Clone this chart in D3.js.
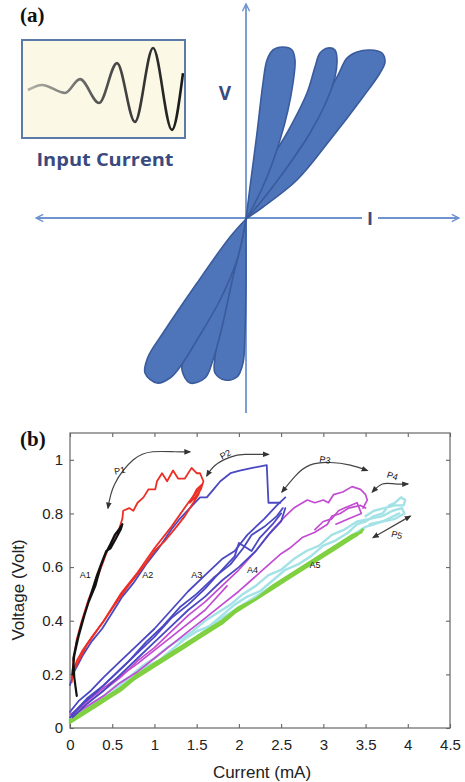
<!DOCTYPE html>
<html><head><meta charset="utf-8">
<script src="https://cdn.jsdelivr.net/npm/d3@7"></script>
<style>body{margin:0;background:#fff}svg{display:block}</style>
</head><body>
<svg id="c" width="465" height="782"></svg>
<script>
// ---------- Panel (a) schematic data (I, V in schematic units) ----------
const waveT = [0.06, 0.96, 2.44, 3.40, 4.62, 5.77, 6.92, 8.08, 9.29, 10];
const waveA = [0, 0.12, -0.07, 0.26, -0.31, 0.64, -0.76, 1.0, -0.95, 0.4];

const lobesUpper = [
  [[0,0],[0.04,0.32],[0.11,0.86],[0.17,1.36],[0.21,1.59],[0.27,1.69],[0.37,1.72],[0.46,1.69],[0.49,1.59],[0.47,1.36],[0.42,1.09],[0.34,0.79],[0.21,0.42],[0.07,0.12],[0,0]],
  [[0,0],[0.17,0.46],[0.41,0.86],[0.61,1.26],[0.69,1.52],[0.74,1.66],[0.82,1.71],[0.89,1.69],[0.91,1.59],[0.89,1.42],[0.81,1.19],[0.64,0.86],[0.37,0.46],[0.14,0.16],[0,0]],
  [[0,0],[0.34,0.59],[0.64,0.99],[0.91,1.42],[1.01,1.61],[1.11,1.67],[1.24,1.69],[1.36,1.66],[1.39,1.57],[1.34,1.46],[1.17,1.22],[0.84,0.79],[0.51,0.39],[0.17,0.12],[0,0]]
];
const lobesLower = [
  [[0,0],[-0.16,-0.18],[-0.49,-0.64],[-0.83,-1.14],[-0.98,-1.38],[-1.01,-1.54],[-0.89,-1.64],[-0.76,-1.59],[-0.66,-1.48],[-0.49,-1.21],[-0.26,-0.81],[-0.09,-0.41],[0,0]],
  [[0,0],[-0.16,-0.41],[-0.33,-0.78],[-0.49,-1.08],[-0.61,-1.34],[-0.64,-1.51],[-0.56,-1.64],[-0.41,-1.59],[-0.33,-1.41],[-0.24,-1.08],[-0.13,-0.58],[-0.04,-0.21],[0,0]],
  [[0,0],[-0.06,-0.24],[-0.16,-0.64],[-0.26,-1.08],[-0.31,-1.38],[-0.31,-1.54],[-0.21,-1.61],[-0.09,-1.58],[-0.03,-1.44],[-0.01,-1.14],[0,-0.64],[0,-0.21],[0,0]]
];

// ---------- Panel (b) data: Current (mA), Voltage (Volt) ----------
const xTicks = [0, 0.5, 1, 1.5, 2, 2.5, 3, 3.5, 4, 4.5];
const yTicks = [0, 0.2, 0.4, 0.6, 0.8, 1];

const cyanTraces = [
  [[0,0.03],[0.15,0.06],[0.3,0.10],[0.45,0.12],[0.6,0.16],[0.75,0.19],[0.9,0.23],[1.05,0.25],[1.2,0.29],[1.35,0.33],[1.5,0.36],[1.65,0.38],[1.8,0.42],[1.95,0.46],[2.1,0.49],[2.25,0.51],[2.4,0.55],[2.55,0.59],[2.7,0.61],[2.85,0.64],[3.0,0.68],[3.15,0.70],[3.3,0.73],[3.4,0.76],[3.5,0.77],[3.6,0.79],[3.7,0.80],[3.78,0.83],[3.85,0.84],[3.92,0.86],[3.97,0.85],[3.95,0.83],[3.85,0.83],[3.72,0.82],[3.6,0.81],[3.5,0.79]],
  [[0,0.04],[0.2,0.08],[0.4,0.12],[0.55,0.16],[0.7,0.19],[0.85,0.23],[1.0,0.26],[1.15,0.30],[1.3,0.33],[1.45,0.36],[1.6,0.40],[1.75,0.43],[1.9,0.46],[2.05,0.50],[2.2,0.53],[2.35,0.57],[2.5,0.59],[2.65,0.63],[2.8,0.66],[2.95,0.68],[3.1,0.72],[3.25,0.74],[3.4,0.77],[3.55,0.78],[3.7,0.79],[3.82,0.81],[3.93,0.82],[3.96,0.80],[3.85,0.78],[3.7,0.77],[3.55,0.76]],
  [[0,0.03],[0.25,0.08],[0.5,0.13],[0.75,0.18],[1.0,0.24],[1.25,0.29],[1.5,0.34],[1.75,0.40],[2.0,0.45],[2.25,0.50],[2.5,0.55],[2.75,0.60],[3.0,0.65],[3.25,0.70],[3.5,0.75],[3.7,0.77],[3.9,0.80]]
];
const greenTraces = [
  [[0,0.02],[0.15,0.05],[0.3,0.08],[0.45,0.11],[0.6,0.14],[0.75,0.18],[0.9,0.21],[1.05,0.24],[1.2,0.27],[1.35,0.30],[1.5,0.33],[1.65,0.36],[1.8,0.39],[1.95,0.43],[2.1,0.46],[2.25,0.49],[2.4,0.52],[2.55,0.55],[2.7,0.58],[2.85,0.61],[3.0,0.64],[3.15,0.67],[3.3,0.70],[3.4,0.72],[3.47,0.74]],
  [[0,0.03],[0.2,0.07],[0.4,0.11],[0.6,0.15],[0.8,0.20],[1.0,0.24],[1.2,0.28],[1.4,0.32],[1.6,0.36],[1.8,0.40],[2.0,0.45],[2.2,0.48],[2.4,0.53],[2.6,0.57],[2.8,0.61],[3.0,0.65],[3.2,0.69],[3.35,0.72],[3.45,0.73]]
];
const magentaTraces = [
  [[0,0.05],[0.2,0.09],[0.4,0.14],[0.6,0.19],[0.8,0.25],[1.0,0.30],[1.2,0.36],[1.4,0.42],[1.6,0.47],[1.8,0.53],[2.0,0.59],[2.2,0.66],[2.4,0.74],[2.55,0.79],[2.65,0.82],[2.81,0.85],[2.9,0.84],[3.0,0.85],[3.06,0.84],[3.12,0.87],[3.23,0.88],[3.34,0.90],[3.44,0.89],[3.5,0.87],[3.52,0.85],[3.47,0.82]],
  [[0,0.04],[0.2,0.08],[0.4,0.12],[0.6,0.17],[0.8,0.21],[1.0,0.26],[1.2,0.31],[1.4,0.36],[1.6,0.41],[1.8,0.46],[2.0,0.51],[2.25,0.58],[2.5,0.65],[2.6,0.67],[2.75,0.71],[2.9,0.73],[3.05,0.76],[3.1,0.79],[3.2,0.80],[3.3,0.82],[3.44,0.83],[3.5,0.82]],
  [[0.05,0.06],[0.4,0.15],[0.8,0.24],[1.2,0.34],[1.6,0.44],[1.86,0.53]],
  [[2.9,0.74],[3.0,0.77],[3.1,0.78],[3.18,0.81],[3.25,0.82],[3.4,0.84],[3.45,0.80],[3.3,0.78],[3.15,0.76]]
];
const blueTraces = [
  [[0,0.06],[0.1,0.10],[0.25,0.14],[0.4,0.19],[0.6,0.25],[0.8,0.31],[1.0,0.37],[1.2,0.44],[1.4,0.51],[1.6,0.57],[1.8,0.63],[1.95,0.66],[2.1,0.72],[2.3,0.78],[2.45,0.83],[2.55,0.86]],
  [[0,0.04],[0.15,0.09],[0.3,0.13],[0.5,0.19],[0.7,0.25],[0.9,0.32],[1.1,0.38],[1.3,0.45],[1.5,0.50],[1.7,0.56],[1.9,0.61],[2.05,0.67],[2.15,0.72],[2.3,0.75],[2.45,0.79],[2.52,0.82]],
  [[0.02,0.05],[0.2,0.11],[0.4,0.16],[0.6,0.22],[0.8,0.28],[1.0,0.34],[1.2,0.41],[1.4,0.46],[1.6,0.52],[1.8,0.59],[1.95,0.64],[2.0,0.69],[2.15,0.66],[2.25,0.71],[2.4,0.76],[2.5,0.80]],
  [[0.03,0.04],[0.2,0.09],[0.4,0.14],[0.6,0.20],[0.8,0.26],[1.0,0.32],[1.2,0.38],[1.4,0.44],[1.6,0.49],[1.8,0.55],[2.0,0.60],[2.2,0.66],[2.35,0.72],[2.5,0.77],[2.55,0.82]],
  [[0,0.16],[0.05,0.21],[0.15,0.27],[0.25,0.32],[0.38,0.37],[0.5,0.43],[0.62,0.49],[0.75,0.54],[0.9,0.61],[1.05,0.67],[1.2,0.74],[1.3,0.78],[1.45,0.83],[1.54,0.86],[1.62,0.86],[1.7,0.89],[1.78,0.92],[1.9,0.95],[2.01,0.96],[2.16,0.97],[2.33,0.98],[2.35,0.84],[2.49,0.84]]
];
const redTraces = [
  [[0.02,0.17],[0.04,0.25],[0.08,0.33],[0.14,0.40],[0.22,0.48],[0.30,0.54],[0.37,0.60],[0.44,0.66],[0.52,0.71],[0.58,0.74],[0.62,0.78],[0.63,0.81],[0.70,0.82],[0.75,0.81],[0.80,0.84],[0.87,0.86],[0.93,0.89],[1.01,0.89],[1.03,0.92],[1.09,0.95],[1.15,0.92],[1.22,0.96],[1.28,0.93],[1.36,0.93],[1.44,0.97],[1.50,0.95],[1.54,0.95],[1.58,0.92],[1.55,0.89],[1.48,0.86],[1.42,0.84],[1.50,0.89],[1.57,0.91],[1.52,0.87],[1.44,0.83],[1.36,0.79],[1.26,0.75],[1.13,0.70],[1.0,0.66],[0.89,0.61],[0.79,0.57],[0.69,0.53],[0.53,0.46],[0.38,0.39],[0.26,0.34],[0.15,0.29],[0.08,0.25],[0.02,0.19]],
  [[0.04,0.21],[0.2,0.31],[0.4,0.40],[0.6,0.50],[0.8,0.58],[1.0,0.67],[1.2,0.75],[1.4,0.84],[1.55,0.90]]
];
const blackTraces = [
  [[0.08,0.12],[0.05,0.19],[0.04,0.26],[0.08,0.32],[0.14,0.39],[0.22,0.47],[0.30,0.53],[0.36,0.60],[0.42,0.65],[0.47,0.68],[0.53,0.72],[0.58,0.74],[0.62,0.76],[0.60,0.74],[0.55,0.71],[0.48,0.67],[0.43,0.66],[0.38,0.62],[0.32,0.57],[0.25,0.50],[0.17,0.42],[0.10,0.34],[0.05,0.27],[0.03,0.20]]
];

const arrows = [
  {pts:[[0.45,0.82],[0.53,0.91],[0.75,1.0],[0.98,1.03],[1.24,1.03],[1.42,1.03]]},
  {pts:[[1.62,0.94],[1.72,0.98],[1.90,1.01],[2.07,1.02],[2.35,1.02]]},
  {pts:[[2.51,0.88],[2.67,0.94],[2.84,0.98],[3.08,0.99],[3.32,0.98],[3.52,0.96]]},
  {pts:[[3.58,0.88],[3.70,0.91],[3.85,0.91],[4.0,0.91]]},
  {pts:[[3.59,0.71],[4.03,0.79]]}
];
const labels = [
  {t:"A1", x:0.18, y:0.57, r:0}, {t:"A2", x:0.92, y:0.57, r:0}, {t:"A3", x:1.50, y:0.57, r:0},
  {t:"A4", x:2.16, y:0.59, r:0}, {t:"A5", x:2.90, y:0.61, r:0},
  {t:"P1", x:0.59, y:0.96, r:-12}, {t:"P2", x:1.84, y:1.02, r:-28}, {t:"P3", x:3.02, y:1.0, r:10},
  {t:"P4", x:3.82, y:0.94, r:18}, {t:"P5", x:3.87, y:0.72, r:15}
];

// ---------- Drawing ----------
const svg = d3.select("#c");
const defs = svg.append("defs");

// Panel (a)
const xa = d3.scaleLinear().domain([-1, 1]).range([146, 346]);
const ya = d3.scaleLinear().domain([-1, 1]).range([319, 119]);
const axisBlue = "#6f93cf";

defs.append("marker").attr("id","chev").attr("viewBox","0 0 10 10").attr("refX",9).attr("refY",5)
  .attr("markerWidth",9).attr("markerHeight",9).attr("orient","auto-start-reverse").attr("markerUnits","userSpaceOnUse")
  .append("path").attr("d","M1,1 L9,5 L1,9").attr("fill","none").attr("stroke",axisBlue).attr("stroke-width",1.6);

const gA = svg.append("g");
gA.append("line").attr("x1",xa(0)).attr("x2",xa(0)).attr("y1",ya(-1.94)).attr("y2",ya(2.15))
  .attr("stroke",axisBlue).attr("stroke-width",1.8).attr("marker-end","url(#chev)");
gA.append("line").attr("x1",xa(-2.1)).attr("x2",xa(1.16)).attr("y1",ya(0.01)).attr("y2",ya(0.01))
  .attr("stroke",axisBlue).attr("stroke-width",1.8).attr("marker-start","url(#chev)");
gA.append("line").attr("x1",xa(1.32)).attr("x2",xa(2.13)).attr("y1",ya(0.01)).attr("y2",ya(0.01))
  .attr("stroke",axisBlue).attr("stroke-width",1.8).attr("marker-end","url(#chev)");

const lobeLine = d3.line().x(d=>xa(d[0])).y(d=>ya(d[1])).curve(d3.curveCatmullRom.alpha(0.5));
const lobeG = gA.append("g");
[...lobesLower].reverse().concat([...lobesUpper].reverse()).forEach(l => {
  lobeG.append("path").attr("d", lobeLine(l) + "Z")
    .attr("fill","#4e74b9").attr("stroke","#3a5b9c").attr("stroke-width",1.6).attr("stroke-linejoin","round");
});

// inset
const xi = d3.scaleLinear().domain([0, 10]).range([27, 183]);
const yi = d3.scaleLinear().domain([-1, 1]).range([132, 48]);
const grad = defs.append("linearGradient").attr("id","wg").attr("x1","0%").attr("x2","100%");
grad.append("stop").attr("offset","0%").attr("stop-color","#b0b0a8");
grad.append("stop").attr("offset","45%").attr("stop-color","#555");
grad.append("stop").attr("offset","100%").attr("stop-color","#1a1a1a");
gA.append("rect").attr("x",22).attr("y",40).attr("width",163).attr("height",98)
  .attr("fill","#fbf8e5").attr("stroke","#5b7aa8").attr("stroke-width",2);
defs.append("clipPath").attr("id","ic").append("rect").attr("x",23).attr("y",41).attr("width",161).attr("height",96);
gA.append("path").attr("clip-path","url(#ic)")
  .attr("d", d3.line().x((d,i)=>xi(waveT[i])).y((d,i)=>yi(waveA[i])).curve(d3.curveMonotoneX)(waveT))
  .attr("fill","none").attr("stroke","url(#wg)").attr("stroke-width",2.6);
gA.append("text").attr("x",105).attr("y",166).attr("text-anchor","middle")
  .attr("font-family","Open Sans, sans-serif").attr("font-weight",700).attr("font-size",18.5)
  .attr("textLength",137).attr("lengthAdjust","spacingAndGlyphs")
  .attr("fill","#3a4a7e").text("Input Current");
gA.append("text").attr("x",225).attr("y",100).attr("text-anchor","middle")
  .attr("font-family","Open Sans, sans-serif").attr("font-weight",700).attr("font-size",19)
  .attr("fill","#3a4a7e").text("V");
gA.append("text").attr("x",xa(1.24)).attr("y",225).attr("text-anchor","middle")
  .attr("font-family","Open Sans, sans-serif").attr("font-weight",700).attr("font-size",18)
  .attr("fill","#3a4a7e").text("I");
svg.append("text").attr("x",20).attr("y",22).attr("font-family","Liberation Serif, serif")
  .attr("font-weight",700).attr("font-size",21).attr("fill","#111").text("(a)");

// Panel (b)
const x = d3.scaleLinear().domain([0, 4.5]).range([70, 450]);
const y = d3.scaleLinear().domain([0, 1.1]).range([728, 433]);
const gB = svg.append("g");
svg.append("text").attr("x",20).attr("y",446).attr("font-family","Liberation Serif, serif")
  .attr("font-weight",700).attr("font-size",21).attr("fill","#111").text("(b)");

gB.append("rect").attr("x",70).attr("y",433).attr("width",380).attr("height",295)
  .attr("fill","none").attr("stroke","#666").attr("stroke-width",1.2);

const fontT = "Liberation Sans, Arial, sans-serif";
function styleAxis(g, showText){
  g.select(".domain").remove();
  g.selectAll(".tick line").attr("stroke","#666").attr("stroke-width",1.1);
  g.selectAll(".tick text").attr("font-family",fontT).attr("font-size",15).attr("fill","#222");
  if(!showText) g.selectAll(".tick text").remove();
}
gB.append("g").attr("transform","translate(0,728)")
  .call(d3.axisBottom(x).tickValues(xTicks).tickSizeInner(-4).tickSizeOuter(0).tickPadding(11).tickFormat(d3.format("")))
  .call(g=>styleAxis(g,true));
gB.append("g").attr("transform","translate(0,433)")
  .call(d3.axisTop(x).tickValues(xTicks).tickSizeInner(-4).tickSizeOuter(0))
  .call(g=>styleAxis(g,false));
gB.append("g").attr("transform","translate(70,0)")
  .call(d3.axisLeft(y).tickValues(yTicks).tickSizeInner(-4).tickSizeOuter(0).tickPadding(7).tickFormat(d3.format("")))
  .call(g=>styleAxis(g,true));
gB.append("g").attr("transform","translate(450,0)")
  .call(d3.axisRight(y).tickValues(yTicks).tickSizeInner(-4).tickSizeOuter(0))
  .call(g=>styleAxis(g,false));

gB.append("text").attr("x",262).attr("y",778).attr("text-anchor","middle")
  .attr("font-family",fontT).attr("font-size",17).attr("fill","#222").text("Current (mA)");
gB.append("text").attr("transform","translate(24,590) rotate(-90)").attr("text-anchor","middle")
  .attr("font-family",fontT).attr("font-size",17).attr("fill","#222").text("Voltage (Volt)");

const ln = d3.line().x(d=>x(d[0])).y(d=>y(d[1])).curve(d3.curveLinear);
function drawTraces(arr, color, w){
  arr.forEach(t => gB.append("path").attr("d", ln(t)).attr("fill","none")
    .attr("stroke",color).attr("stroke-width",w).attr("stroke-linejoin","round").attr("stroke-linecap","round"));
}
drawTraces(cyanTraces, "#a3e2e6", 2.4);
drawTraces(greenTraces, "#7fd03e", 2.6);
drawTraces(magentaTraces, "#c24cd2", 1.7);
drawTraces(blueTraces, "#4a48c2", 1.8);
drawTraces(redTraces, "#ec2e26", 1.8);
drawTraces(blackTraces, "#111", 2.2);

// annotations
defs.append("marker").attr("id","ah").attr("viewBox","0 0 10 10").attr("refX",8).attr("refY",5)
  .attr("markerWidth",7).attr("markerHeight",7).attr("orient","auto-start-reverse").attr("markerUnits","userSpaceOnUse")
  .append("path").attr("d","M0,1 L10,5 L0,9 Z").attr("fill","#333");
const aLine = d3.line().x(d=>x(d[0])).y(d=>y(d[1])).curve(d3.curveNatural);
arrows.forEach(a => gB.append("path").attr("d", aLine(a.pts)).attr("fill","none")
  .attr("stroke","#444").attr("stroke-width",1.2)
  .attr("marker-start","url(#ah)").attr("marker-end","url(#ah)"));
labels.forEach(l => gB.append("text")
  .attr("transform",`translate(${x(l.x)},${y(l.y)}) rotate(${l.r})`)
  .attr("text-anchor","middle").attr("dy","0.35em")
  .attr("font-family",fontT).attr("font-size",9).attr("fill","#111").text(l.t));
</script>
</body></html>
